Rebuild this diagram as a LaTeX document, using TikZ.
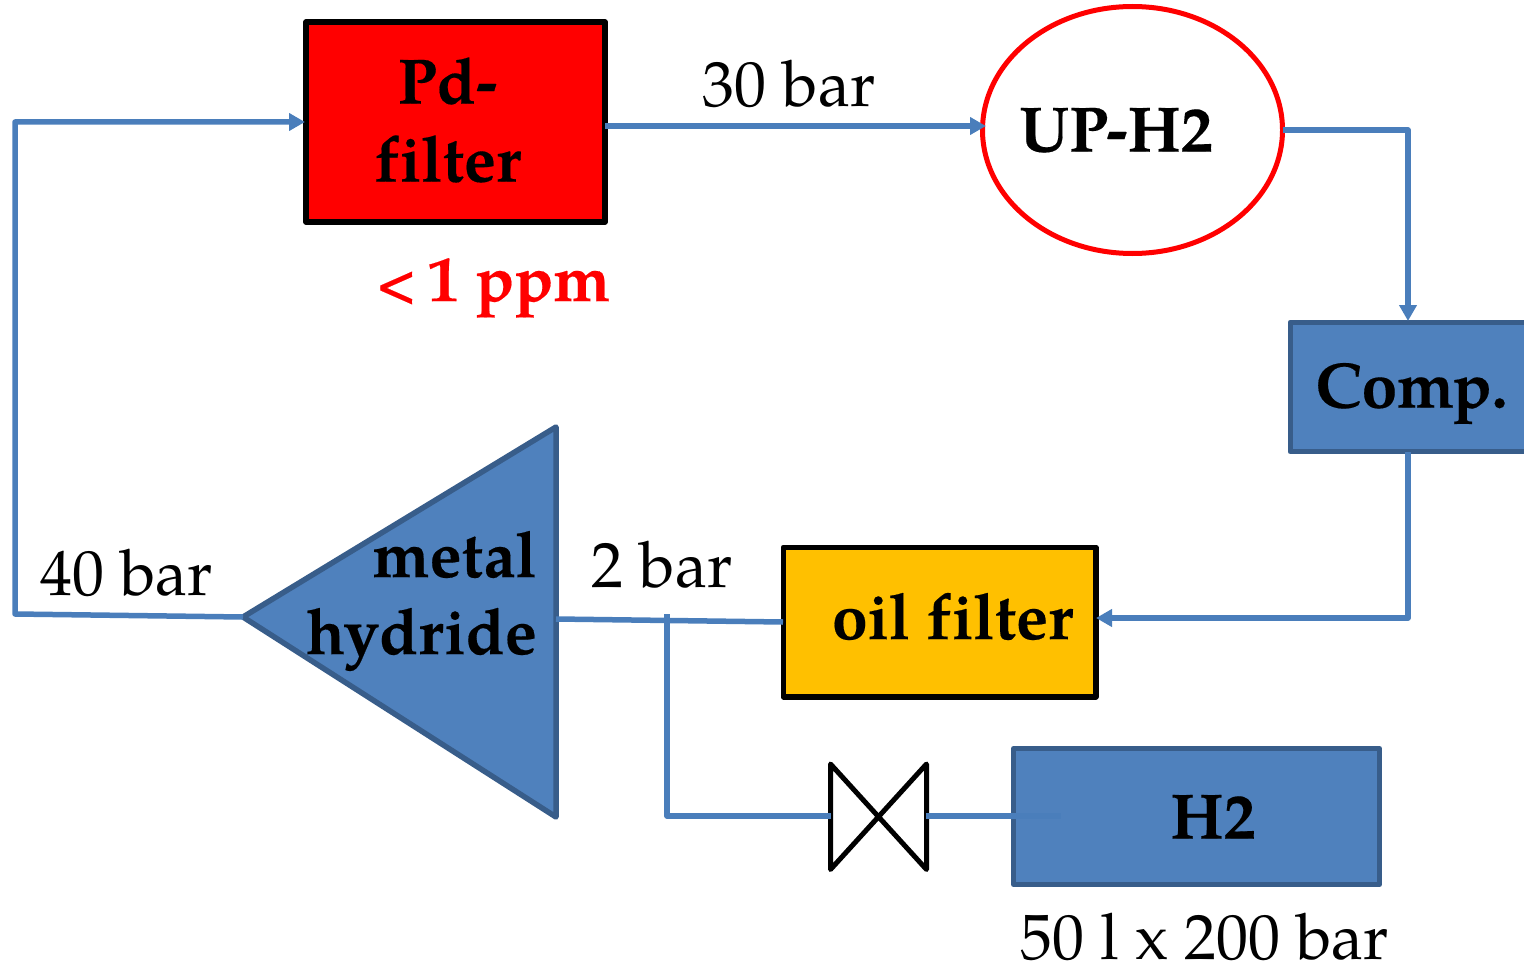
\documentclass[tikz,border=0pt]{standalone}
\usepackage{fontspec}
\setmainfont[Ligatures=CommonOff,BoldFeatures={FakeBold=0.25}]{TeX Gyre Pagella}
\usetikzlibrary{arrows.meta,shapes.geometric}
\definecolor{bluefill}{HTML}{4F81BD}
\definecolor{blueedge}{HTML}{385D8A}
\definecolor{blueline}{HTML}{4A7EBB}
\definecolor{amber}{HTML}{FFC000}
\tikzset{
  boxbase/.style={draw,line width=5.5pt,line join=round,inner sep=0pt,outer sep=0pt,minimum width=#1},
  bluebox/.style={fill=bluefill,draw=blueedge,line width=5pt,line join=round,inner sep=0pt,outer sep=0pt},
  flow/.style={draw=blueline,line width=5.5pt,line join=round},
  flowtip/.style={flow,-{Triangle[length=16pt,width=17pt]}},
  big/.style={font=\fontsize{64}{70}\selectfont\bfseries,inner sep=0pt,align=center},
  plain/.style={font=\fontsize{64}{70}\selectfont,inner sep=0pt},
}
\begin{document}
\begin{tikzpicture}[x=1pt,y=-1pt]
\useasboundingbox (0,0) rectangle (1524,963);
\path[clip] (0,0) rectangle (1524,963);
% shapes
\path[fill=bluefill,draw=blueedge,line width=5.5pt,line join=round] (243,617) coordinate (triL) -- (556,427) -- (556,817) -- cycle;
\coordinate (triR) at (556,619);
\node[boxbase=299pt,fill=red,minimum height=200pt] (pd) at (455.5,122) {};
\node[draw=red,line width=5pt,ellipse,fill=white,minimum width=300pt,minimum height=247pt,inner sep=0pt,outer sep=0pt] (up) at (1132.5,130) {};
\node[bluebox,minimum width=250pt,minimum height=129.5pt] (comp) at (1415,387) {};
\node[boxbase=312.5pt,fill=amber,minimum height=149.5pt] (oil) at (939.5,622) {};
\node[bluebox,minimum width=366pt,minimum height=136pt] (htwo) at (1196.5,816.5) {};
% valve
\draw[line width=5pt,line join=round] (830.5,764) coordinate (va) -- (926.5,869.5) -- (926.5,764) -- (830.5,869.5) -- cycle;
\coordinate (valveL) at (831,816);
\coordinate (valveR) at (926,816);
\coordinate (hin) at (1061,816);
% corners
\coordinate (c1) at (15,614);
\coordinate (c2) at (15,122);
\coordinate (pdW) at (305,122);
\coordinate (pdE) at (605,126);
\coordinate (upW) at (986,126);
\coordinate (upE) at (1283,130);
\coordinate (k1) at (1408,130);
\coordinate (compN) at (1408,321);
\coordinate (compS) at (1408,452);
\coordinate (k2) at (1408,618);
\coordinate (oilE) at (1096,618);
\coordinate (oilW) at (783,622);
\coordinate (br) at (667,614);
\coordinate (br2) at (667,816);
% connectors
\draw[flowtip] (triL) -- (c1) -- (c2) -- (pdW);
\draw[flowtip] (pdE) -- (upW);
\draw[flowtip] (upE) -- (k1) -- (compN);
\draw[flowtip] (compS) -- (k2) -- (oilE);
\draw[flow] (oilW) -- (triR);
\draw[flow] (br) -- (br2) -- (valveL);
\draw[flow] (valveR) -- (hin);
% labels
\node[big] (t1) at (447.5,120) {Pd-\\[8pt]filter};
\node[big,text=red,anchor=base west] (t2a) at (376,301) {\fontsize{52}{52}\selectfont <};
\node[big,text=red,anchor=base west] (t2) at (427,301) {1 ppm};
\node[big,anchor=base] (t3) at (1116,151.5) {UP-H2};
\node[big,anchor=base] (t4) at (1411.5,407.5) {Comp.};
\node[big,anchor=base] (t5) at (952.5,639) {oil filter};
\node[big,anchor=base] (t6) at (1213,838.5) {H2};
\node[big,anchor=base east] (t7) at (537,577) {metal};
\node[big,anchor=base east] (t8) at (537,654) {hydride};
\node[plain,anchor=base] (t9) at (789,107) {30 bar};
\node[plain,anchor=base] (t10) at (126.5,595) {40 bar};
\node[plain,anchor=base] (t11) at (662,587) {2 bar};
\node[plain,anchor=base] (t12) at (1205,959) {50 l x 200 bar};
\end{tikzpicture}
\end{document}
